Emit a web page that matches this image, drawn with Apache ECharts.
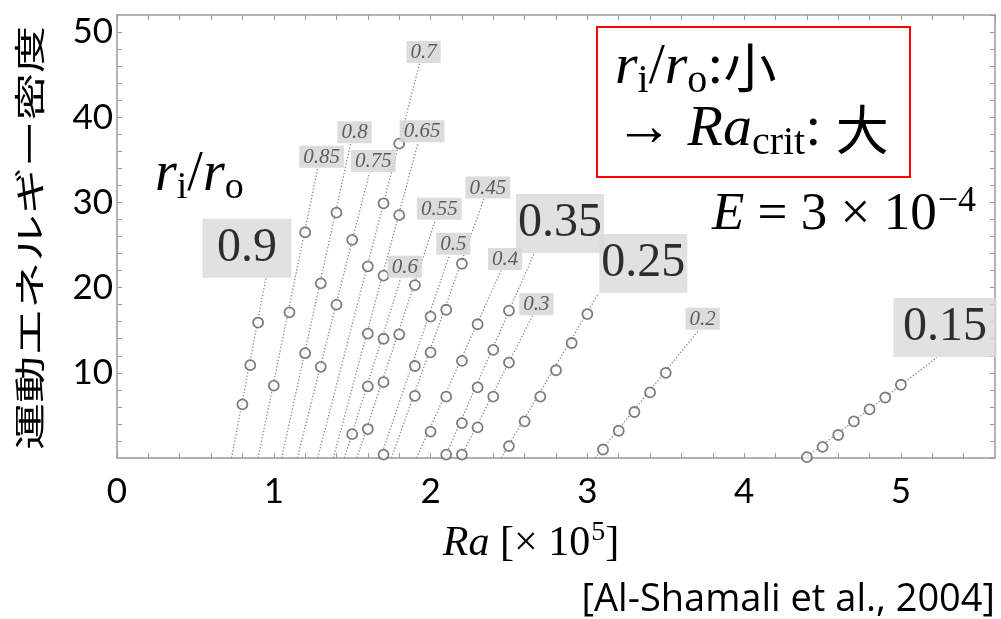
<!DOCTYPE html>
<html>
<head>
<meta charset="utf-8">
<script src="https://cdn.jsdelivr.net/npm/echarts@6/dist/echarts.min.js"></script>
<style>
  html, body { margin: 0; padding: 0; background: #ffffff; }
  #chart { width: 1001px; height: 619px; }
</style>
</head>
<body>
<div id="chart"></div>
<script>
// Kinetic energy density vs. Rayleigh number (Ra in units of 1e5), E = 3e-4,
// one curve per radius ratio r_i/r_o.
const ratios = ['0.9', '0.85', '0.8', '0.75', '0.7', '0.65', '0.6', '0.55',
                '0.5', '0.45', '0.4', '0.35', '0.3', '0.25', '0.2', '0.15'];

// simulated runs: [Ra, kinetic energy density]
const pts090 = [[0.80, 6.3], [0.85, 10.9], [0.90, 15.9]];
const pts085 = [[1.0, 8.5], [1.1, 17.1], [1.2, 26.5]];
const pts080 = [[1.2, 12.3], [1.3, 20.5], [1.4, 28.8]];
const pts075 = [[1.3, 10.7], [1.4, 18.0], [1.5, 25.6]];
const pts070 = [[1.6, 22.5], [1.7, 29.9], [1.8, 36.9]];
const pts065 = [[1.6, 14.6], [1.7, 21.4], [1.8, 28.5]];
const pts060 = [[1.5, 2.8], [1.6, 8.4], [1.7, 14.0]];
const pts055 = [[1.6, 3.4], [1.7, 8.9], [1.8, 14.5], [1.9, 20.3]];
const pts050 = [[1.7, 0.4], [1.9, 10.8], [2.0, 16.6]];
const pts045 = [[1.9, 7.3], [2.0, 12.4], [2.1, 17.4], [2.2, 22.8]];
const pts040 = [[2.0, 3.1], [2.1, 7.2], [2.2, 11.4], [2.3, 15.7]];
const pts035 = [[2.1, 0.4], [2.2, 4.1], [2.3, 8.3], [2.4, 12.7], [2.5, 17.3]];
const pts030 = [[2.2, 0.4], [2.3, 3.6], [2.4, 7.2], [2.5, 11.2]];
const pts025 = [[2.5, 1.4], [2.6, 4.3], [2.7, 7.2], [2.8, 10.3], [2.9, 13.5], [3.0, 16.9]];
const pts020 = [[3.1, 1.0], [3.2, 3.2], [3.3, 5.4], [3.4, 7.7], [3.5, 10.0]];
const pts015 = [[4.4, 0.1], [4.5, 1.3], [4.6, 2.7], [4.7, 4.3], [4.8, 5.7], [4.9, 7.1], [5.0, 8.6]];

// linear fits: from onset (energy 0) up to the end carrying the ratio tag
const fit090 = [[0.73, 0], [0.95, 21.1]];
const fit085 = [[0.90, 0], [1.28, 34.0]];
const fit080 = [[1.05, 0], [1.49, 36.9]];
const fit075 = [[1.15, 0], [1.61, 33.5]];
const fit070 = [[1.28, 0], [1.93, 46.3]];
const fit065 = [[1.38, 0], [1.92, 37.0]];
const fit060 = [[1.45, 0], [1.81, 21.1]];
const fit055 = [[1.53, 0], [2.03, 27.9]];
const fit050 = [[1.68, 0], [2.12, 23.8]];
const fit045 = [[1.75, 0], [2.34, 30.4]];
const fit040 = [[1.91, 0], [2.45, 22.0]];
const fit035 = [[2.09, 0], [2.66, 24.0]];
const fit030 = [[2.19, 0], [2.65, 16.7]];
const fit025 = [[2.45, 0], [3.07, 19.3]];
const fit020 = [[3.05, 0], [3.71, 15.0]];
const fit015 = [[4.39, 0], [5.23, 11.8]];

const pointSets = [pts090, pts085, pts080, pts075, pts070, pts065, pts060, pts055,
                   pts050, pts045, pts040, pts035, pts030, pts025, pts020, pts015];
const fitSets = [fit090, fit085, fit080, fit075, fit070, fit065, fit060, fit055,
                 fit050, fit045, fit040, fit035, fit030, fit025, fit020, fit015];

// axis tick labels
const xTickLabels = ['0', '1', '2', '3', '4', '5'];
const yTickLabels = ['10', '20', '30', '40', '50'];

const yTitle = '運動エネルギー密度';
const citation = '[Al-Shamali et al., 2004]';

const SERIF = 'Liberation Serif';
const SANS = 'Lato';
const CJK = 'Noto Sans CJK JP';

// ratios whose tag is drawn as a large overlay box: box width and shift
const bigTags = {
  '0.9':  { w: 89,  dx: -19 },
  '0.35': { w: 88,  dx: 26 },
  '0.25': { w: 88,  dx: 45 },
  '0.15': { w: 103, dx: 8 }
};

function tagLabel(name) {
  const big = bigTags[name];
  if (big) {
    return {
      show: true, position: 'top', distance: 0, offset: [big.dx, 0],
      formatter: name, fontFamily: SERIF, fontSize: 48, color: '#000',
      backgroundColor: '#d9d9d9', width: big.w, align: 'center',
      lineHeight: 51, padding: [4, 0, 4, 0]
    };
  }
  return {
    show: true, position: 'top', distance: 0, offset: [4, 0],
    formatter: name, fontFamily: SERIF, fontStyle: 'italic', fontSize: 21,
    color: '#3d3d3d', backgroundColor: '#d3d3d3', lineHeight: 19,
    padding: [2, 4, 1, 4]
  };
}

const isWhole = v => Math.abs(v - Math.round(v)) < 1e-6;

const series = [];
ratios.forEach((name, i) => {
  series.push({
    type: 'line', name: 'fit ' + name, data: fitSets[i],
    showSymbol: false, symbol: 'none', silent: true, z: 2,
    lineStyle: { color: '#878787', width: 1.3, type: [1.3, 2] }
  });
  series.push({
    type: 'scatter', name: name, data: pointSets[i],
    symbol: 'circle', symbolSize: 10, z: 3,
    itemStyle: { color: 'rgba(255,255,255,0.9)', borderColor: '#5e5e5e', borderWidth: 1.8 }
  });
});
series.push({
  type: 'scatter', name: 'tags', z: 5, silent: true,
  symbolSize: 1, itemStyle: { color: 'rgba(0,0,0,0)' },
  data: ratios.map((name, i) => ({
    value: fitSets[i][fitSets[i].length - 1],
    name: name,
    label: tagLabel(name)
  }))
});

const frameLine = { show: true, onZero: false, lineStyle: { color: '#9a9a9a', width: 1.5 } };
const frameTick = { show: true, inside: true, length: 5, lineStyle: { color: '#9a9a9a', width: 1 } };

const option = {
  animation: false,
  backgroundColor: '#ffffff',
  grid: { left: 117, top: 15, right: 6, bottom: 161, containLabel: false },
  xAxis: [
    {
      type: 'value', position: 'bottom', min: 0, max: 5.6, interval: 0.2,
      axisLine: frameLine, axisTick: frameTick, splitLine: { show: false },
      axisLabel: {
        show: true, interval: 0, margin: 16, showMaxLabel: false,
        fontFamily: SANS, fontSize: 35, color: '#000',
        formatter: v => isWhole(v) && xTickLabels.includes(String(Math.round(v))) ? String(Math.round(v)) : ''
      }
    },
    {
      type: 'value', position: 'top', min: 0, max: 5.6, interval: 0.2,
      axisLine: frameLine, axisTick: frameTick, splitLine: { show: false },
      axisLabel: { show: false }
    }
  ],
  yAxis: [
    {
      type: 'value', position: 'left', min: 0, max: 52, interval: 2,
      axisLine: frameLine, axisTick: frameTick, splitLine: { show: false },
      axisLabel: {
        show: true, interval: 0, margin: 4, showMinLabel: false, showMaxLabel: false,
        fontFamily: SANS, fontSize: 35, color: '#000',
        formatter: v => yTickLabels.includes(String(Math.round(v))) && isWhole(v) ? String(Math.round(v)) : ''
      }
    },
    {
      type: 'value', position: 'right', min: 0, max: 52, interval: 2,
      axisLine: frameLine, axisTick: frameTick, splitLine: { show: false },
      axisLabel: { show: false }
    }
  ],
  series: series,
  graphic: [
    {
      type: 'text', x: 29, y: 238, rotation: Math.PI / 2, scaleX: 1.52, z: 10,
      style: { text: yTitle, fontFamily: CJK, fontSize: 31, fill: '#000',
               textAlign: 'center', textVerticalAlign: 'middle' }
    },
    {
      type: 'text', x: 531, y: 544, z: 10,
      style: {
        text: '{i|Ra}{n| [× 10}{p|5}{n|]}',
        textAlign: 'center', textVerticalAlign: 'middle',
        rich: {
          i: { fontFamily: SERIF, fontStyle: 'italic', fontSize: 42, fill: '#000' },
          n: { fontFamily: SERIF, fontSize: 42, fill: '#000' },
          p: { fontFamily: SERIF, fontSize: 28, fill: '#000', padding: [0, 0, 22, 1] }
        }
      }
    },
    {
      type: 'text', x: 155, y: 175, z: 10,
      style: {
        text: '{i|r}{s|i}{n|/}{i|r}{s|o}',
        textAlign: 'left', textVerticalAlign: 'middle',
        rich: {
          i: { fontFamily: SERIF, fontStyle: 'italic', fontSize: 56, fill: '#000' },
          n: { fontFamily: SERIF, fontSize: 56, fill: '#000' },
          s: { fontFamily: SERIF, fontSize: 38, fill: '#000', padding: [26, 0, 0, 0] }
        }
      }
    },
    {
      type: 'rect', z: 9,
      shape: { x: 597, y: 27, width: 313, height: 150 },
      style: { fill: '#ffffff', stroke: '#ff0000', lineWidth: 2 }
    },
    {
      type: 'text', x: 615, y: 68, z: 10,
      style: {
        text: '{i|r}{s|i}{n|/}{i|r}{s|o}{n|:}{j|小}',
        textAlign: 'left', textVerticalAlign: 'middle',
        rich: {
          i: { fontFamily: SERIF, fontStyle: 'italic', fontSize: 58, fill: '#000' },
          n: { fontFamily: SERIF, fontSize: 58, fill: '#000' },
          s: { fontFamily: SERIF, fontSize: 40, fill: '#000', padding: [26, 0, 0, 0] },
          j: { fontFamily: CJK, fontSize: 53, fill: '#000' }
        }
      }
    },
    {
      type: 'text', x: 615, y: 130, z: 10,
      style: {
        text: '{n|→ }{i|Ra}{s|crit}{n|: }{j|大}',
        textAlign: 'left', textVerticalAlign: 'middle',
        rich: {
          i: { fontFamily: SERIF, fontStyle: 'italic', fontSize: 58, fill: '#000' },
          n: { fontFamily: SERIF, fontSize: 58, fill: '#000' },
          s: { fontFamily: SERIF, fontSize: 40, fill: '#000', padding: [26, 0, 0, 0] },
          j: { fontFamily: CJK, fontSize: 53, fill: '#000' }
        }
      }
    },
    {
      type: 'text', x: 712, y: 215, z: 10,
      style: {
        text: '{i|E}{n| = 3 × 10}{p|−4}',
        textAlign: 'left', textVerticalAlign: 'middle',
        rich: {
          i: { fontFamily: SERIF, fontStyle: 'italic', fontSize: 53, fill: '#000' },
          n: { fontFamily: SERIF, fontSize: 53, fill: '#000' },
          p: { fontFamily: SERIF, fontSize: 36, fill: '#000', padding: [0, 0, 26, 1] }
        }
      }
    },
    {
      type: 'text', x: 995, y: 600, z: 10,
      style: { text: citation, fontFamily: 'Open Sans', fontSize: 38, fill: '#000',
               textAlign: 'right', textVerticalAlign: 'middle' }
    }
  ]
};

const chart = echarts.init(document.getElementById('chart'), null, { renderer: 'canvas' });
chart.setOption(option);
</script>
</body>
</html>
